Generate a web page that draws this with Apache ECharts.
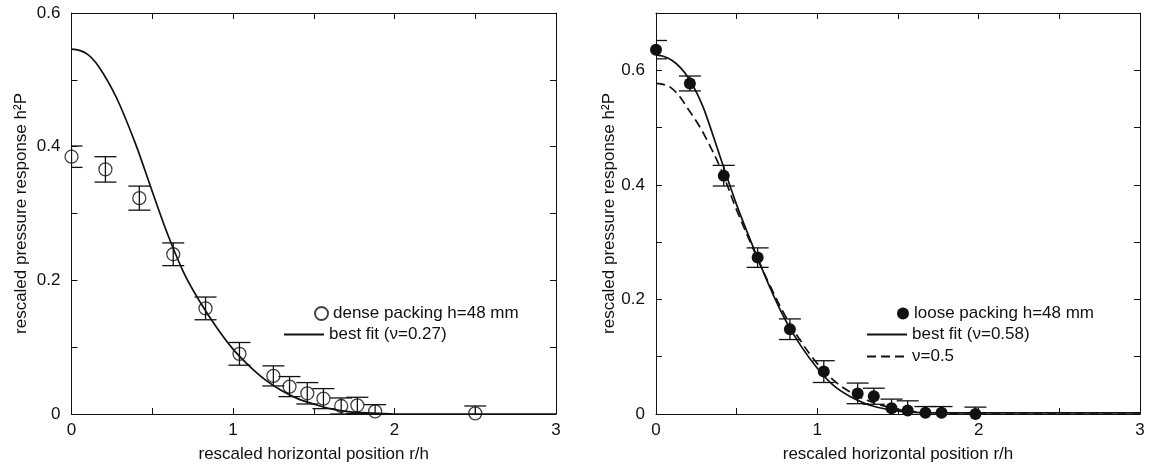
<!DOCTYPE html>
<html>
<head>
<meta charset="utf-8">
<script src="https://cdn.jsdelivr.net/npm/echarts@6/dist/echarts.min.js"></script>
<style>
  html, body { margin: 0; padding: 0; background: #fff; }
  #chart { width: 1153px; height: 468px; }
</style>
</head>
<body>
<div id="chart"></div>
<script>
// dense packing (left panel), measured points and error bars
const denseX = [0, 0.21, 0.42, 0.63, 0.83, 1.04, 1.25, 1.35, 1.46, 1.56, 1.67, 1.77, 1.88, 2.5]
const denseY = [0.385, 0.366, 0.323, 0.239, 0.158, 0.090, 0.057, 0.041, 0.031, 0.023, 0.012, 0.013, 0.004, 0.001]
const denseErr = [0.016, 0.019, 0.018, 0.017, 0.017, 0.017, 0.015, 0.015, 0.016, 0.015, 0.012, 0.012, 0.010, 0.011]

// loose packing (right panel)
const looseX = [0, 0.21, 0.42, 0.63, 0.83, 1.04, 1.25, 1.35, 1.46, 1.56, 1.67, 1.77, 1.98]
const looseY = [0.636, 0.577, 0.416, 0.273, 0.148, 0.074, 0.036, 0.031, 0.010, 0.006, 0.002, 0.002, 0.000]
const looseErr = [0.016, 0.013, 0.018, 0.017, 0.018, 0.019, 0.018, 0.014, 0.016, 0.017, 0.011, 0.011, 0.012]

// fit curves (finer near the peak)
const curveX = [0, 0.05, 0.1, 0.15, 0.2, 0.25, 0.3, 0.4, 0.5, 0.6, 0.7, 0.8, 0.9, 1.0, 1.1, 1.2, 1.3, 1.4, 1.5,
  1.6, 1.7, 1.8, 1.9, 2.0, 2.1, 2.2, 2.3, 2.4, 2.5, 2.6, 2.7, 2.8, 2.9, 3.0]
const denseFit = [0.546, 0.544, 0.538, 0.526, 0.508, 0.487, 0.462, 0.402, 0.333, 0.266, 0.209, 0.166, 0.129, 0.097, 0.072, 0.051, 0.035, 0.023, 0.015,
  0.008, 0.004, 0.002, 0.001, 0, 0, 0, 0, 0, 0, 0, 0, 0, 0, 0]
const looseFit = [0.627, 0.624, 0.617, 0.605, 0.587, 0.562, 0.530, 0.447, 0.365, 0.293, 0.225, 0.165, 0.118, 0.080, 0.050, 0.031, 0.018, 0.010, 0.005,
  0.003, 0.002, 0.002, 0.002, 0.002, 0.002, 0.002, 0.002, 0.002, 0.002, 0.002, 0.002, 0.002, 0.002, 0.002]
const nu05Fit = [0.577, 0.575, 0.568, 0.553, 0.532, 0.511, 0.487, 0.429, 0.356, 0.290, 0.228, 0.172, 0.126, 0.088, 0.059, 0.039, 0.025, 0.015, 0.008,
  0.004, 0.002, 0.001, 0, 0, 0, 0, 0, 0, 0, 0, 0, 0, 0, 0]

const FONT = 'Liberation Sans'
const INK = '#111'

const pairs = (xs, ys) => xs.map((x, i) => [x, ys[i]])
const triples = (xs, ys, es) => xs.map((x, i) => [x, ys[i], es[i]])

function errorBars (params, api) {
  const x = api.value(0)
  const y = api.value(1)
  const e = api.value(2)
  const top = api.coord([x, y + e])
  const bot = api.coord([x, y - e])
  const w = 11
  const style = { stroke: INK, lineWidth: 1.3 }
  return {
    type: 'group',
    children: [
      { type: 'line', shape: { x1: top[0], y1: top[1], x2: bot[0], y2: bot[1] }, style: style },
      { type: 'line', shape: { x1: top[0] - w, y1: top[1], x2: top[0] + w, y2: top[1] }, style: style },
      { type: 'line', shape: { x1: bot[0] - w, y1: bot[1], x2: bot[0] + w, y2: bot[1] }, style: style }
    ]
  }
}

function xAxisDef (grid, pos) {
  const bottom = pos === 'bottom'
  return {
    type: 'value',
    gridIndex: grid,
    position: pos,
    min: 0,
    max: 3,
    interval: 0.5,
    name: bottom ? 'rescaled horizontal position r/h' : '',
    nameLocation: 'middle',
    nameGap: 32,
    nameTextStyle: { fontFamily: FONT, fontSize: 17, color: INK },
    axisLine: { show: true, onZero: false, lineStyle: { color: INK, width: 1 } },
    axisTick: { show: true, inside: true, length: 6, lineStyle: { color: INK } },
    axisLabel: {
      show: bottom,
      margin: 8,
      fontFamily: FONT,
      fontSize: 17,
      color: INK,
      formatter: v => (Math.abs(v - Math.round(v)) < 1e-6 ? String(Math.round(v)) : '')
    },
    splitLine: { show: false }
  }
}

function yAxisDef (grid, pos, max, gap) {
  const left = pos === 'left'
  return {
    type: 'value',
    gridIndex: grid,
    position: pos,
    min: 0,
    max: max,
    interval: 0.1,
    name: left ? 'rescaled pressure response h²P' : '',
    nameLocation: 'middle',
    nameGap: gap,
    nameTextStyle: { fontFamily: FONT, fontSize: 17, color: INK },
    axisLine: { show: true, onZero: false, lineStyle: { color: INK, width: 1 } },
    axisTick: { show: true, inside: true, length: 6, lineStyle: { color: INK } },
    axisLabel: {
      show: left,
      margin: 11,
      fontFamily: FONT,
      fontSize: 17,
      color: INK,
      formatter: v => {
        const k = Math.round(v * 10)
        if (k % 2 !== 0) return ''
        return k === 0 ? '0' : (k / 10).toFixed(1)
      }
    },
    splitLine: { show: false }
  }
}

const chart = echarts.init(document.getElementById('chart'), null, { renderer: 'canvas' })

const legendText = { fontFamily: FONT, fontSize: 17, color: INK }
// line legends: hide the symbol drawn in the middle of the line icon
const lineLegend = (name, left, top) => ({
  data: [name],
  left: left,
  top: top,
  padding: 0,
  itemWidth: 40,
  itemHeight: 14,
  itemStyle: { opacity: 0 },
  textStyle: legendText,
  selectedMode: false
})

const option = {
  animation: false,
  backgroundColor: '#fff',
  grid: [
    { left: 71.5, right: 597, top: 13, bottom: 54 },
    { left: 656, right: 13, top: 13, bottom: 54 }
  ],
  xAxis: [xAxisDef(0, 'bottom'), xAxisDef(0, 'top'), xAxisDef(1, 'bottom'), xAxisDef(1, 'top')],
  yAxis: [yAxisDef(0, 'left', 0.6, 42), yAxisDef(0, 'right', 0.6, 0), yAxisDef(1, 'left', 0.7, 38), yAxisDef(1, 'right', 0.7, 0)],
  legend: [
    { data: ['dense packing h=48 mm'], left: 314, top: 305, padding: 0, icon: 'circle', itemWidth: 13, itemHeight: 13, textStyle: legendText, selectedMode: false },
    lineLegend('best fit (ν=0.27)', 283, 326),
    { data: ['loose packing h=48 mm'], left: 897, top: 305, padding: 0, icon: 'circle', itemWidth: 12, itemHeight: 12, textStyle: legendText, selectedMode: false },
    lineLegend('best fit (ν=0.58)', 866, 326),
    lineLegend('ν=0.5', 866, 348)
  ],
  series: [
    {
      name: 'best fit (ν=0.27)',
      type: 'line',
      xAxisIndex: 0,
      yAxisIndex: 0,
      data: pairs(curveX, denseFit),
      smooth: 0.35,
      showSymbol: false,
      symbol: 'none',
      lineStyle: { color: INK, width: 1.7 },
      itemStyle: { color: INK }
    },
    {
      name: 'dense packing h=48 mm',
      type: 'scatter',
      xAxisIndex: 0,
      yAxisIndex: 0,
      data: pairs(denseX, denseY),
      symbol: 'circle',
      symbolSize: 13,
      itemStyle: { color: 'rgba(0,0,0,0)', borderColor: INK, borderWidth: 1.3 },
      z: 4
    },
    {
      name: 'dense errors',
      type: 'custom',
      xAxisIndex: 0,
      yAxisIndex: 0,
      clip: true,
      renderItem: errorBars,
      data: triples(denseX, denseY, denseErr),
      z: 3
    },
    {
      name: 'best fit (ν=0.58)',
      type: 'line',
      xAxisIndex: 2,
      yAxisIndex: 2,
      data: pairs(curveX, looseFit),
      smooth: 0.35,
      showSymbol: false,
      symbol: 'none',
      lineStyle: { color: INK, width: 1.7 },
      itemStyle: { color: INK }
    },
    {
      name: 'ν=0.5',
      type: 'line',
      xAxisIndex: 2,
      yAxisIndex: 2,
      data: pairs(curveX, nu05Fit),
      smooth: 0.35,
      showSymbol: false,
      symbol: 'none',
      lineStyle: { color: INK, width: 1.7, type: [9, 5] },
      itemStyle: { color: INK }
    },
    {
      name: 'loose packing h=48 mm',
      type: 'scatter',
      xAxisIndex: 2,
      yAxisIndex: 2,
      data: pairs(looseX, looseY),
      symbol: 'circle',
      symbolSize: 12,
      itemStyle: { color: INK, opacity: 1 },
      z: 4
    },
    {
      name: 'loose errors',
      type: 'custom',
      xAxisIndex: 2,
      yAxisIndex: 2,
      clip: true,
      renderItem: errorBars,
      data: triples(looseX, looseY, looseErr),
      z: 3
    }
  ]
}

chart.setOption(option)
</script>
</body>
</html>
